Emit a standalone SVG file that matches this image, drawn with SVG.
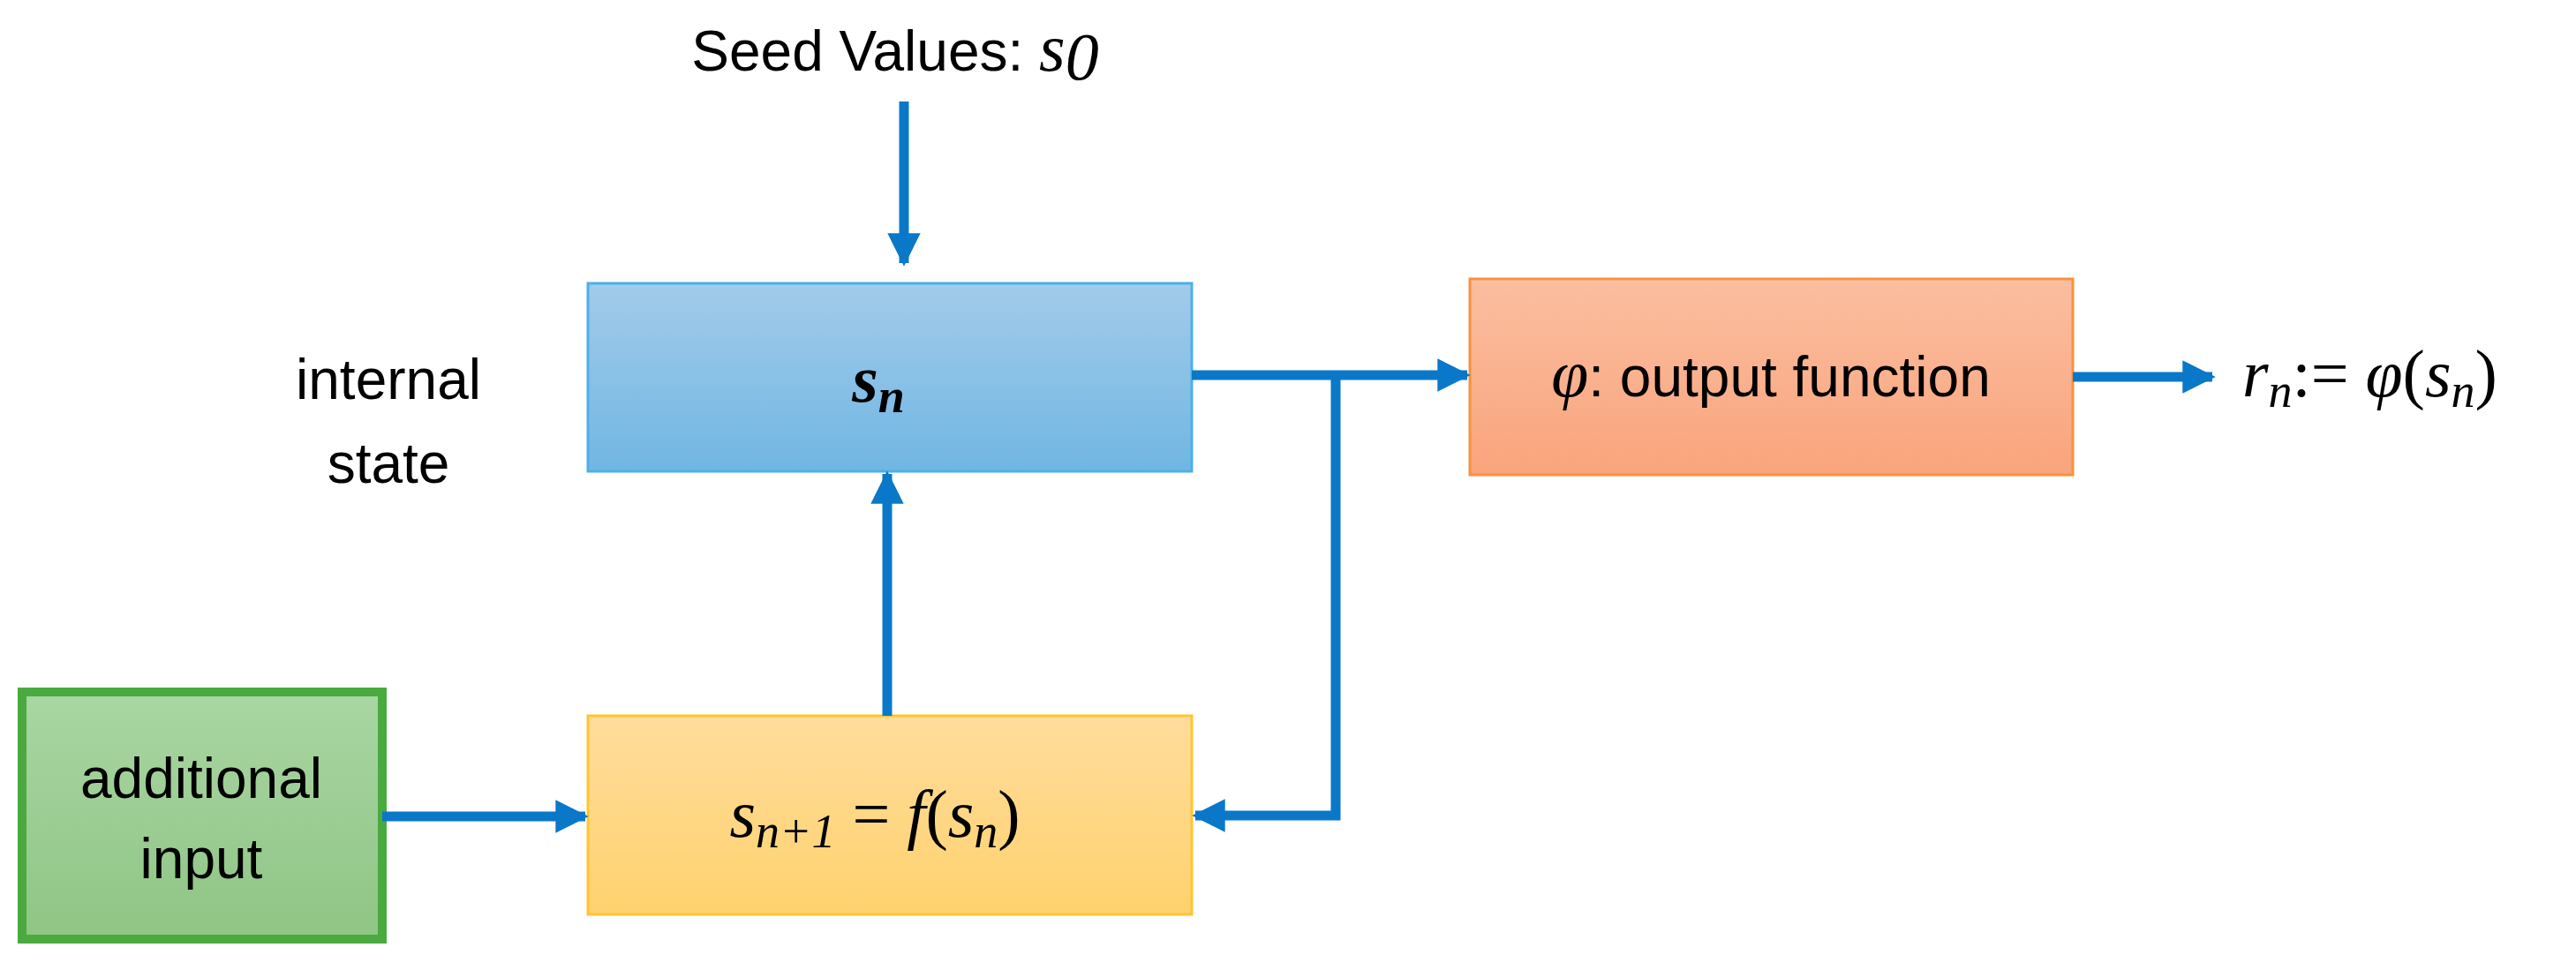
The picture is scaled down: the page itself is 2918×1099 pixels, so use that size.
<svg xmlns="http://www.w3.org/2000/svg" width="2918" height="1099" viewBox="0 0 2918 1099">
<defs>
<linearGradient id="gb" x1="0" y1="0" x2="0" y2="1"><stop offset="0" stop-color="#a3cbea"/><stop offset="1" stop-color="#70b6e3"/></linearGradient>
<linearGradient id="gy" x1="0" y1="0" x2="0" y2="1"><stop offset="0" stop-color="#ffdc9c"/><stop offset="1" stop-color="#ffd26e"/></linearGradient>
<linearGradient id="go" x1="0" y1="0" x2="0" y2="1"><stop offset="0" stop-color="#fbbea0"/><stop offset="1" stop-color="#f9a47c"/></linearGradient>
<linearGradient id="gg" x1="0" y1="0" x2="0" y2="1"><stop offset="0" stop-color="#a9d6a2"/><stop offset="1" stop-color="#8fc585"/></linearGradient>
<marker id="ah" viewBox="0 0 10 10" refX="9" refY="5" markerWidth="3.4" markerHeight="3.4" orient="auto" markerUnits="strokeWidth"><path d="M0,0 L10,5 L0,10 z" fill="#0a78c8"/></marker>
<style>
.t{font-family:"Liberation Sans",Arial,sans-serif;font-size:64px;fill:#000}
.m{font-family:"Liberation Serif","Times New Roman",serif;font-style:italic;font-size:76px;fill:#000}
.c{fill:none;stroke:#0a78c8;stroke-width:11}
</style>
</defs>
<g id="seed"><text class="t" x="1014" y="80" text-anchor="middle">Seed Values: <tspan class="m">s</tspan><tspan class="m" font-style="normal" font-size="50" dy="10">0</tspan></text></g>
<g id="label"><text class="t" x="440" y="452" text-anchor="middle">internal</text><text class="t" x="440" y="547" text-anchor="middle">state</text></g>
<g id="state"><rect x="666" y="321" width="684" height="213" fill="url(#gb)" stroke="#4bb0ea" stroke-width="3"/>
<text class="m" x="995" y="455" text-anchor="middle" font-weight="bold">s<tspan font-size="54" dy="12">n</tspan></text></g>
<g id="update"><rect x="666" y="811" width="684" height="225" fill="url(#gy)" stroke="#ffc531" stroke-width="3"/>
<text class="m" x="991" y="948" text-anchor="middle">s<tspan font-size="54" dy="12">n+1</tspan><tspan dy="-12" font-style="normal"> = </tspan>f<tspan font-style="normal">(</tspan>s<tspan font-size="54" dy="12">n</tspan><tspan font-style="normal" dy="-12">)</tspan></text></g>
<g id="input"><rect x="25" y="784" width="408" height="280" fill="url(#gg)" stroke="#4aaa3f" stroke-width="10"/>
<text class="t" x="228" y="904" text-anchor="middle">additional</text><text class="t" x="228" y="995" text-anchor="middle">input</text></g>
<g id="output"><rect x="1665" y="316" width="683" height="222" fill="url(#go)" stroke="#f9913f" stroke-width="3"/>
<text class="t" x="2006" y="449" text-anchor="middle"><tspan class="m">φ</tspan>: output function</text></g>
<g id="result"><text class="m" x="2540" y="449">r<tspan font-size="54" dy="12">n</tspan><tspan font-style="normal" dy="-12">:= </tspan>φ<tspan font-style="normal">(</tspan>s<tspan font-size="54" dy="12">n</tspan><tspan font-style="normal" dy="-12">)</tspan></text></g>
<g id="connectors">
<path class="c" d="M1024,115 V298" marker-end="url(#ah)"/>
<path class="c" d="M1005,811 V537" marker-end="url(#ah)"/>
<path class="c" d="M433,925 H663" marker-end="url(#ah)"/>
<path class="c" d="M1350,425 H1662" marker-end="url(#ah)"/>
<path class="c" d="M1513,425 V924 H1354" marker-end="url(#ah)"/>
<path class="c" d="M2348,427 H2506" marker-end="url(#ah)"/>
</g>
</svg>
